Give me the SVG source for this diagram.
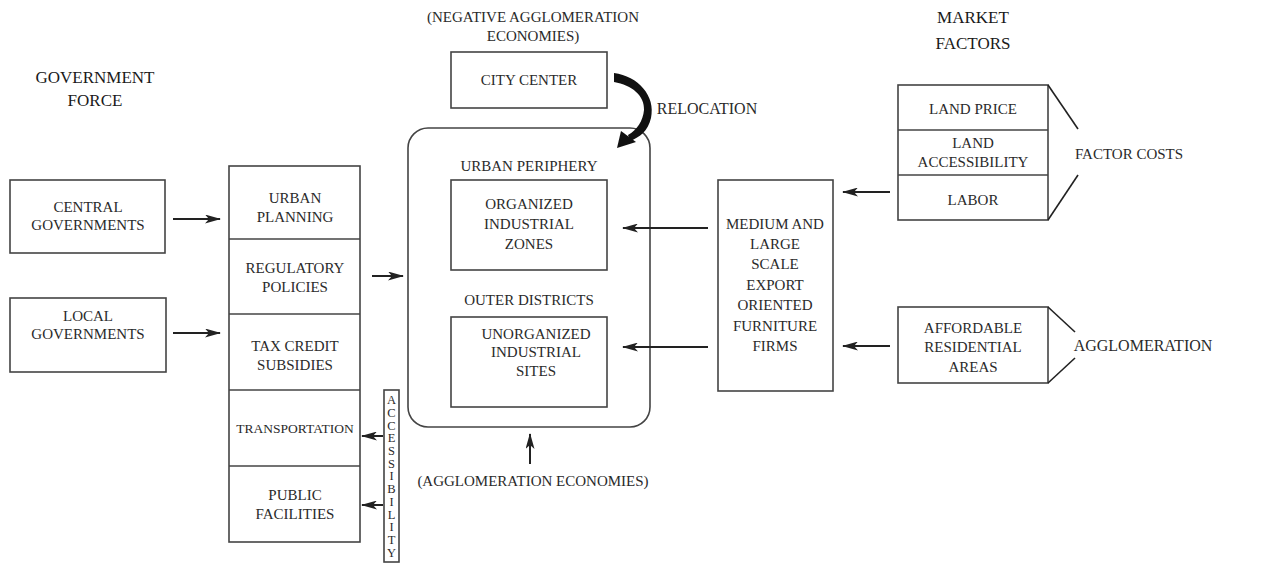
<svg xmlns="http://www.w3.org/2000/svg" width="1263" height="563" viewBox="0 0 1263 563">
<defs>
<style>
text{font-family:"Liberation Serif","Times New Roman",serif;font-size:15px;fill:#2a2a2a;text-anchor:middle}
.h{font-size:17px;fill:#1a1a1a}
.box{fill:none;stroke:#444;stroke-width:1.6}
.ln{fill:none;stroke:#222;stroke-width:1.6}
.ar{fill:none;stroke:#222;stroke-width:2}
.acc{font-size:12.5px}
</style>
<marker id="ah" viewBox="0 0 16 9" refX="15" refY="4.5" markerWidth="16" markerHeight="9" markerUnits="userSpaceOnUse" orient="auto">
<path d="M0,0 L16,4.5 L0,9 L4,4.5 z" fill="#222"/>
</marker>
</defs>
<rect width="1263" height="563" fill="#fff"/>

<g id="title-government">
<text class="h" x="95" y="83">GOVERNMENT</text>
<text class="h" x="95" y="106">FORCE</text>
</g>
<g id="title-market">
<text class="h" x="973" y="23">MARKET</text>
<text class="h" x="973" y="49">FACTORS</text>
</g>

<g id="central-governments">
<rect class="box" x="10" y="180" width="155" height="73"/>
<text x="88" y="212">CENTRAL</text>
<text x="88" y="230">GOVERNMENTS</text>
</g>
<g id="local-governments">
<rect class="box" x="10" y="298" width="156" height="74"/>
<text x="88" y="321">LOCAL</text>
<text x="88" y="339">GOVERNMENTS</text>
</g>

<g id="government-instruments">
<rect class="box" x="229" y="166" width="131" height="376"/>
<line class="box" x1="229" y1="239" x2="360" y2="239"/>
<line class="box" x1="229" y1="314" x2="360" y2="314"/>
<line class="box" x1="229" y1="390" x2="360" y2="390"/>
<line class="box" x1="229" y1="466" x2="360" y2="466"/>
<text x="295" y="203">URBAN</text>
<text x="295" y="222">PLANNING</text>
<text x="295" y="273">REGULATORY</text>
<text x="295" y="292">POLICIES</text>
<text x="295" y="351">TAX CREDIT</text>
<text x="295" y="370">SUBSIDIES</text>
<text x="295" y="433" style="font-size:13.5px">TRANSPORTATION</text>
<text x="295" y="500">PUBLIC</text>
<text x="295" y="519">FACILITIES</text>
</g>

<g id="accessibility">
<rect class="box" x="384" y="390" width="15" height="172"/>
<text class="acc" x="391.5" y="404">A</text>
<text class="acc" x="391.5" y="417">C</text>
<text class="acc" x="391.5" y="430">C</text>
<text class="acc" x="391.5" y="442">E</text>
<text class="acc" x="391.5" y="455">S</text>
<text class="acc" x="391.5" y="468">S</text>
<text class="acc" x="391.5" y="480">I</text>
<text class="acc" x="391.5" y="493">B</text>
<text class="acc" x="391.5" y="506">I</text>
<text class="acc" x="391.5" y="519">L</text>
<text class="acc" x="391.5" y="531">I</text>
<text class="acc" x="391.5" y="544">T</text>
<text class="acc" x="391.5" y="557">Y</text>
</g>

<g id="neg-agglomeration-label">
<text x="533" y="22">(NEGATIVE AGGLOMERATION</text>
<text x="533" y="41">ECONOMIES)</text>
</g>
<g id="city-center">
<rect class="box" x="451" y="52" width="156" height="56"/>
<text x="529" y="85">CITY CENTER</text>
</g>
<g id="relocation-label">
<text x="707" y="114" style="font-size:16px">RELOCATION</text>
</g>

<g id="urban-region">
<rect class="box" x="408" y="128" width="242" height="299" rx="20" ry="20"/>
<text x="529" y="171">URBAN PERIPHERY</text>
<text x="529" y="305">OUTER DISTRICTS</text>
</g>
<g id="organized-zones">
<rect class="box" x="451" y="180" width="156" height="90"/>
<text x="529" y="209">ORGANIZED</text>
<text x="529" y="229">INDUSTRIAL</text>
<text x="529" y="249">ZONES</text>
</g>
<g id="unorganized-sites">
<rect class="box" x="451" y="317" width="156" height="90"/>
<text x="536" y="339">UNORGANIZED</text>
<text x="536" y="357">INDUSTRIAL</text>
<text x="536" y="376">SITES</text>
</g>
<g id="agglomeration-economies-label">
<text x="533" y="486">(AGGLOMERATION ECONOMIES)</text>
</g>

<g id="furniture-firms">
<rect class="box" x="718" y="180" width="115" height="211"/>
<text x="775" y="229">MEDIUM AND</text>
<text x="775" y="249">LARGE</text>
<text x="775" y="269">SCALE</text>
<text x="775" y="290">EXPORT</text>
<text x="775" y="310">ORIENTED</text>
<text x="775" y="331">FURNITURE</text>
<text x="775" y="351">FIRMS</text>
</g>

<g id="factor-stack">
<rect class="box" x="898" y="85" width="150" height="135"/>
<line class="box" x1="898" y1="130" x2="1048" y2="130"/>
<line class="box" x1="898" y1="175" x2="1048" y2="175"/>
<text x="973" y="114">LAND PRICE</text>
<text x="973" y="148">LAND</text>
<text x="973" y="167">ACCESSIBILITY</text>
<text x="973" y="205">LABOR</text>
</g>
<g id="factor-costs">
<line class="ln" x1="1048" y1="85" x2="1078" y2="129"/>
<line class="ln" x1="1048" y1="220" x2="1078" y2="175"/>
<text x="1129" y="159">FACTOR COSTS</text>
</g>

<g id="affordable-areas">
<rect class="box" x="898" y="307" width="150" height="76"/>
<text x="973" y="333">AFFORDABLE</text>
<text x="973" y="352">RESIDENTIAL</text>
<text x="973" y="372">AREAS</text>
</g>
<g id="agglomeration">
<line class="ln" x1="1048" y1="307" x2="1075" y2="332"/>
<line class="ln" x1="1048" y1="383" x2="1075" y2="358"/>
<text x="1143" y="351" style="font-size:16px">AGGLOMERATION</text>
</g>

<g id="connectors">
<line class="ar" x1="173" y1="219" x2="220" y2="219" marker-end="url(#ah)"/>
<line class="ar" x1="173" y1="333" x2="220" y2="333" marker-end="url(#ah)"/>
<line class="ar" x1="372" y1="276" x2="403" y2="276" marker-end="url(#ah)"/>
<line class="ar" x1="383" y1="436" x2="362" y2="436" marker-end="url(#ah)"/>
<line class="ar" x1="383" y1="505" x2="362" y2="505" marker-end="url(#ah)"/>
<line class="ar" x1="708" y1="228" x2="623" y2="228" marker-end="url(#ah)"/>
<line class="ar" x1="708" y1="347" x2="623" y2="347" marker-end="url(#ah)"/>
<line class="ar" x1="890" y1="192" x2="843" y2="192" marker-end="url(#ah)"/>
<line class="ar" x1="890" y1="346" x2="843" y2="346" marker-end="url(#ah)"/>
<line class="ar" x1="530" y1="464" x2="530" y2="434" marker-end="url(#ah)"/>
<path id="relocation-arrow" fill="#111" d="M614,73 C638,76 656,96 651,118 C648,131 640,137 630,141 L628,135 C637,130 643,121 644,110 C645,96 632,85 614,82 Z"/>
<path fill="#111" d="M617,148 L621,131 L636,142 Z"/>
</g>
</svg>
